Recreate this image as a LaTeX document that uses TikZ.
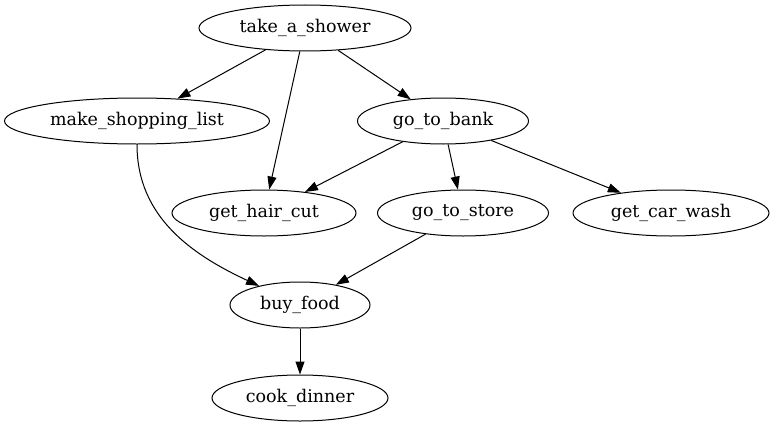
\documentclass[tikz,border=0pt]{standalone}
\usepackage{fontspec}
\setmainfont{DejaVu Serif}
\usetikzlibrary{shapes.geometric, arrows.meta}

\tikzset{
	task/.style={ellipse, draw, line width=1pt, inner sep=0pt, minimum height=46pt, font=\fontsize{17.5}{21}\selectfont},
	edge/.style={line width=1pt, -{Triangle[length=13pt, width=9pt]}}
}

\begin{document}
\begin{tikzpicture}[x=1pt, y=-1pt]
	\useasboundingbox (0,0) rectangle (775,428);

	% Tasks
	\node[task, minimum width=212pt] (shower) at (305, 28) {take\_a\_shower};
	\node[task, minimum width=265pt] (list) at (137, 121) {make\_shopping\_list};
	\node[task, minimum width=171pt] (bank) at (443, 121) {go\_to\_bank};
	\node[task, minimum width=184pt] (haircut) at (264, 213) {get\_hair\_cut};
	\node[task, minimum width=171pt] (store) at (463, 213) {go\_to\_store};
	\node[task, minimum width=196pt] (carwash) at (671, 213) {get\_car\_wash};
	\node[task, minimum width=140pt] (food) at (300, 305) {buy\_food};
	\node[task, minimum width=176pt] (dinner) at (300, 398) {cook\_dinner};

	% Dependencies
	\draw[edge] (shower) -- (list);
	\draw[edge] (shower) -- (haircut);
	\draw[edge] (shower) -- (bank);
	\draw[edge] (bank) -- (haircut);
	\draw[edge] (bank) -- (store);
	\draw[edge] (bank) -- (carwash);
	\draw[edge] (store) -- (food);
	\draw[edge] (list.south) to[out=-90, in=155] (food);
	\draw[edge] (food) -- (dinner);
\end{tikzpicture}
\end{document}
